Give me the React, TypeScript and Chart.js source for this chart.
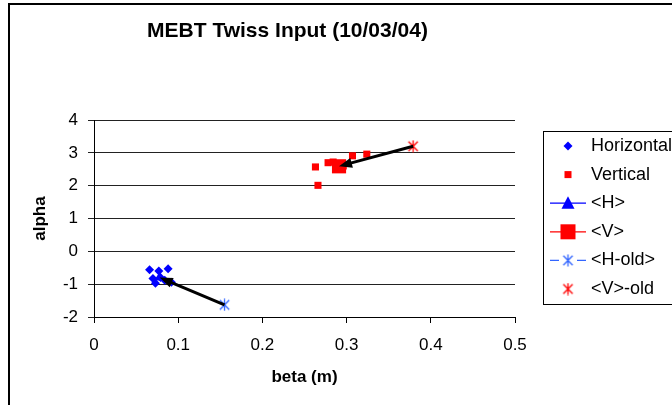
import React, { useEffect, useRef } from "react";
import { Chart, registerables } from "chart.js";

Chart.register(...registerables);

// Twiss parameters (beta in m, alpha) at the MEBT input
const hBeta = [0.066, 0.077, 0.088, 0.07, 0.073, 0.079, 0.092, 0.084];
const hAlpha = [-0.56, -0.6, -0.53, -0.83, -0.97, -0.8, -0.94, -0.88];
const vBeta = [0.263, 0.266, 0.278, 0.284, 0.307, 0.324, 0.296];
const vAlpha = [2.57, 2.01, 2.7, 2.72, 2.91, 2.96, 2.6];

// Averages and previous values: [beta, alpha]
const hMean = [0.078, -0.8];
const vMean = [0.291, 2.59];
const hOld = [0.155, -1.63];
const vOld = [0.379, 3.2];

const seriesNames = ["Horizontal", "Vertical", "<H>", "<V>", "<H-old>", "<V>-old"];
const xTicks = [0, 0.1, 0.2, 0.3, 0.4, 0.5];
const yTicks = [-2, -1, 0, 1, 2, 3, 4];

const chartTitle = "MEBT Twiss Input (10/03/04)";
const xTitle = "beta (m)";
const yTitle = "alpha";

const FONT = "'Liberation Sans', Arial, Helvetica, sans-serif";
const BLUE = "#0000FF";
const RED = "#FF0000";
const LIGHT_BLUE = "#3366FF";

function makeAsterisk(color: string, size: number): HTMLCanvasElement {
  const c = document.createElement("canvas");
  c.width = size;
  c.height = size;
  const g = c.getContext("2d")!;
  g.strokeStyle = color;
  g.lineWidth = 1.3;
  const m = size / 2;
  const r = size / 2 - 0.5;
  const d = r * 0.78;
  g.beginPath();
  g.moveTo(m, m - r);
  g.lineTo(m, m + r);
  g.moveTo(m - d, m - d);
  g.lineTo(m + d, m + d);
  g.moveTo(m + d, m - d);
  g.lineTo(m - d, m + d);
  g.stroke();
  return c;
}

const pt = (p: number[]) => ({ x: p[0], y: p[1] });

export default function App() {
  const canvasRef = useRef<HTMLCanvasElement | null>(null);

  useEffect(() => {
    const canvas = canvasRef.current;
    if (!canvas) return;

    const starBlue = makeAsterisk(LIGHT_BLUE, 13);
    const starRed = makeAsterisk(RED, 13);

    // Arrows from the old values to the new averages
    const arrowPlugin = {
      id: "shiftArrows",
      afterDatasetsDraw(chart: any) {
        const { ctx } = chart;
        const xs = chart.scales.x;
        const ys = chart.scales.y;
        const pairs = [
          [hOld, hMean],
          [vOld, vMean],
        ];
        ctx.save();
        for (const [from, to] of pairs) {
          const x0 = xs.getPixelForValue(from[0]);
          const y0 = ys.getPixelForValue(from[1]);
          const x1 = xs.getPixelForValue(to[0]);
          const y1 = ys.getPixelForValue(to[1]);
          const a = Math.atan2(y1 - y0, x1 - x0);
          const len = 13;
          const half = 5;
          const bx = x1 - len * Math.cos(a);
          const by = y1 - len * Math.sin(a);
          ctx.strokeStyle = "#000";
          ctx.lineWidth = 3;
          ctx.beginPath();
          ctx.moveTo(x0, y0);
          ctx.lineTo(bx + 2 * Math.cos(a), by + 2 * Math.sin(a));
          ctx.stroke();
          ctx.fillStyle = "#000";
          ctx.beginPath();
          ctx.moveTo(x1, y1);
          ctx.lineTo(bx - half * Math.sin(a), by + half * Math.cos(a));
          ctx.lineTo(bx + half * Math.sin(a), by - half * Math.cos(a));
          ctx.closePath();
          ctx.fill();
        }
        ctx.restore();
      },
    };

    // Title and side legend
    const decorPlugin = {
      id: "decor",
      afterDraw(chart: any) {
        const { ctx, chartArea: area } = chart;
        ctx.save();

        ctx.fillStyle = "#000";
        ctx.font = `bold 21px ${FONT}`;
        ctx.textAlign = "center";
        ctx.textBaseline = "alphabetic";
        ctx.fillText(chartTitle, area.left + 193.5, 32);

        const boxLeft = area.right + 28;
        const boxTop = area.top + 11;
        const boxBottom = area.bottom - 13;
        ctx.strokeStyle = "#000";
        ctx.lineWidth = 1;
        ctx.strokeRect(Math.round(boxLeft) + 0.5, Math.round(boxTop) + 0.5, 300, boxBottom - boxTop);

        const rowTop = boxTop + 15;
        const step = 28.6;
        const mx = boxLeft + 25;
        const lineL = boxLeft + 7;
        const lineR = boxLeft + 43;
        const textX = boxLeft + 48;

        const hline = (y: number, color: string, gap = 0) => {
          ctx.strokeStyle = color;
          ctx.lineWidth = 1.3;
          ctx.beginPath();
          if (gap > 0) {
            ctx.moveTo(lineL, y);
            ctx.lineTo(mx - gap, y);
            ctx.moveTo(mx + gap, y);
            ctx.lineTo(lineR, y);
          } else {
            ctx.moveTo(lineL, y);
            ctx.lineTo(lineR, y);
          }
          ctx.stroke();
        };

        seriesNames.forEach((name, i) => {
          const y = rowTop + i * step;
          if (i === 0) {
            ctx.fillStyle = BLUE;
            ctx.beginPath();
            ctx.moveTo(mx, y - 4.5);
            ctx.lineTo(mx + 4.5, y);
            ctx.lineTo(mx, y + 4.5);
            ctx.lineTo(mx - 4.5, y);
            ctx.closePath();
            ctx.fill();
          } else if (i === 1) {
            ctx.fillStyle = RED;
            ctx.fillRect(mx - 3.5, y - 3.5, 7, 7);
          } else if (i === 2) {
            hline(y, BLUE);
            ctx.fillStyle = BLUE;
            ctx.beginPath();
            ctx.moveTo(mx, y - 7);
            ctx.lineTo(mx + 6.5, y + 5.5);
            ctx.lineTo(mx - 6.5, y + 5.5);
            ctx.closePath();
            ctx.fill();
          } else if (i === 3) {
            hline(y, RED);
            ctx.fillStyle = RED;
            ctx.fillRect(mx - 7.5, y - 7.5, 15, 15);
          } else if (i === 4) {
            hline(y, LIGHT_BLUE, 9);
            ctx.drawImage(starBlue, mx - 6.5, y - 6.5);
          } else {
            ctx.drawImage(starRed, mx - 6.5, y - 6.5);
          }
          ctx.fillStyle = "#000";
          ctx.font = `18px ${FONT}`;
          ctx.textAlign = "left";
          ctx.textBaseline = "middle";
          ctx.fillText(name, textX, y);
        });

        ctx.restore();
      },
    };

    const tickFont = { family: FONT, size: 17 };
    const titleFont = { family: FONT, size: 17, weight: "bold" as const };

    const chart = new Chart(canvas, {
      type: "scatter",
      data: {
        datasets: [
          {
            label: seriesNames[0],
            data: hBeta.map((b, i) => ({ x: b, y: hAlpha[i] })),
            pointStyle: "rectRot",
            pointRadius: 4.5,
            backgroundColor: BLUE,
            borderColor: BLUE,
            pointBorderWidth: 0,
          },
          {
            label: seriesNames[1],
            data: vBeta.map((b, i) => ({ x: b, y: vAlpha[i] })),
            pointStyle: "rect",
            pointRadius: 5,
            backgroundColor: RED,
            borderColor: RED,
            pointBorderWidth: 0,
          },
          {
            label: seriesNames[2],
            data: [pt(hMean)],
            pointStyle: "triangle",
            pointRadius: 6,
            backgroundColor: BLUE,
            borderColor: BLUE,
            pointBorderWidth: 0,
            showLine: true,
          },
          {
            label: seriesNames[3],
            data: [pt(vMean)],
            pointStyle: "rect",
            pointRadius: 10,
            backgroundColor: RED,
            borderColor: RED,
            pointBorderWidth: 0,
            showLine: true,
          },
          {
            label: seriesNames[4],
            data: [pt(hOld)],
            pointStyle: starBlue,
            backgroundColor: LIGHT_BLUE,
            borderColor: LIGHT_BLUE,
            showLine: true,
          },
          {
            label: seriesNames[5],
            data: [pt(vOld)],
            pointStyle: starRed,
            backgroundColor: RED,
            borderColor: RED,
          },
        ],
      },
      options: {
        animation: false,
        responsive: false,
        events: [],
        layout: { padding: { top: 115, right: 157, left: 0, bottom: 0 } },
        plugins: {
          legend: { display: false },
          tooltip: { enabled: false },
          title: { display: false },
        },
        scales: {
          x: {
            type: "linear",
            min: 0,
            max: 0.5,
            afterBuildTicks: (s: any) => {
              s.ticks = xTicks.map((v) => ({ value: v }));
            },
            afterFit: (s: any) => {
              s.height = 88;
            },
            ticks: {
              font: tickFont,
              color: "#000",
              padding: 12,
              callback: (v: any) => String(Math.round(Number(v) * 10) / 10),
            },
            grid: {
              drawOnChartArea: false,
              drawTicks: true,
              tickLength: 6,
              color: "#000",
            },
            border: { display: true, color: "#000", width: 1 },
            title: {
              display: true,
              text: xTitle,
              font: titleFont,
              color: "#000",
              padding: { top: 0, bottom: 17 },
            },
          },
          y: {
            type: "linear",
            min: -2,
            max: 4,
            afterBuildTicks: (s: any) => {
              s.ticks = yTicks.map((v) => ({ value: v }));
            },
            afterFit: (s: any) => {
              s.width = 84;
            },
            ticks: {
              font: tickFont,
              color: "#000",
              padding: 10,
              callback: (v: any) => String(Math.round(Number(v))),
            },
            grid: {
              drawOnChartArea: true,
              drawTicks: true,
              tickLength: 6,
              color: "#222",
            },
            border: { display: true, color: "#000", width: 1 },
            title: {
              display: true,
              text: yTitle,
              font: titleFont,
              color: "#000",
              padding: { top: 20, bottom: 0 },
            },
          },
        },
      },
      plugins: [arrowPlugin, decorPlugin],
    });

    return () => chart.destroy();
  }, []);

  return (
    <div
      style={{
        position: "fixed",
        left: 8,
        top: 3,
        width: 700,
        height: 420,
        borderLeft: "2px solid #000",
        borderTop: "2px solid #000",
        background: "#fff",
        overflow: "hidden",
      }}
    >
      <canvas ref={canvasRef} width={662} height={400} style={{ display: "block" }} />
    </div>
  );
}
